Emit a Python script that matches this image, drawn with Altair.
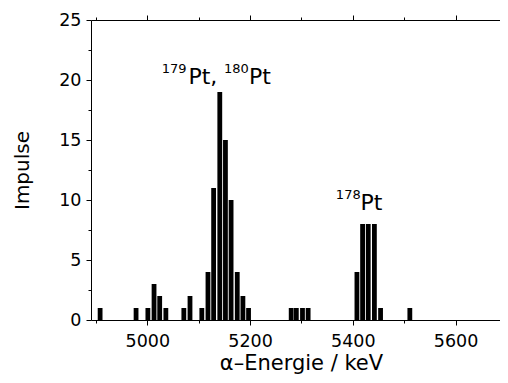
import altair as alt
import pandas as pd

# histogram bins (bin centre, keV) and counts
energy = [4908, 4978, 5001, 5013, 5024, 5036, 5071, 5083, 5106, 5118, 5129, 5141,
          5152, 5163, 5175, 5186, 5197, 5280, 5290, 5302, 5313, 5408, 5419, 5430,
          5442, 5454, 5511]
counts = [1, 1, 1, 3, 2, 1, 1, 2, 1, 4, 11, 19, 15, 10, 4, 2, 1, 1, 1, 1, 1, 4, 8, 8,
          8, 1, 1]

# annotations (data coordinates)
sup_text = ["179", "180", "178"]
sup_x = [5028, 5149, 5367]
sup_y = [20.56, 20.56, 10.06]
main_text = ["Pt,", "Pt", "Pt"]
main_x = [5080, 5198, 5415]
main_y = [19.64, 19.64, 9.17]

x_major = [5000, 5200, 5400, 5600]
x_minor = [4900, 5000, 5100, 5200, 5300, 5400, 5500, 5600]
y_major = [0, 5, 10, 15, 20, 25]
y_minor = [2.5, 7.5, 12.5, 17.5, 22.5]

FONT = "DejaVu Sans"

bars_df = pd.DataFrame({"energy": energy, "counts": counts})
sup_df = pd.DataFrame({"t": sup_text, "x": sup_x, "y": sup_y})
main_df = pd.DataFrame({"t": main_text, "x": main_x, "y": main_y})
tick_df = pd.DataFrame({"v": x_minor})

xscale = alt.Scale(domain=[4900, 5676.8], nice=False, zero=False)
yscale = alt.Scale(domain=[0, 25], nice=False)

bars = alt.Chart(bars_df).mark_bar(size=4.8, color="black").encode(
    x=alt.X("energy:Q", scale=xscale,
            axis=alt.Axis(orient="bottom", values=x_major, format="d", tickSize=5,
                          labelPadding=7, labelFont=FONT, labelFontSize=17.5,
                          title="α–Energie / keV", titleFont=FONT, titleFontSize=21,
                          titlePadding=3, titleX=210, domainColor="black",
                          tickColor="black")),
    y=alt.Y("counts:Q", scale=yscale,
            axis=alt.Axis(orient="left", values=y_major, format="d", tickSize=5,
                          labelPadding=5, labelFont=FONT, labelFontSize=17.5,
                          title="Impulse", titleFont=FONT, titleFontSize=20,
                          titlePadding=26, domainColor="black", tickColor="black")),
)

sup = alt.Chart(sup_df).mark_text(align="left", baseline="alphabetic", fontSize=13,
                                  font=FONT, color="black").encode(
    x=alt.X("x:Q", scale=xscale,
            axis=alt.Axis(orient="bottom", values=x_minor, tickSize=3, labels=False,
                          domain=False, title=None, tickColor="black")),
    y=alt.Y("y:Q", scale=yscale,
            axis=alt.Axis(orient="left", values=y_minor, tickSize=3, labels=False,
                          domain=False, title=None, tickColor="black")),
    text="t:N",
)

main = alt.Chart(main_df).mark_text(align="left", baseline="alphabetic", fontSize=22,
                                    font=FONT, color="black").encode(
    x=alt.X("x:Q", scale=xscale,
            axis=alt.Axis(orient="top", values=x_major, tickSize=5, labels=False,
                          title=None, domainColor="black", tickColor="black")),
    y=alt.Y("y:Q", scale=yscale, axis=None),
    text="t:N",
)

topminor = alt.Chart(tick_df).mark_point(opacity=0).encode(
    x=alt.X("v:Q", scale=xscale,
            axis=alt.Axis(orient="top", values=x_minor, tickSize=3, labels=False,
                          domain=False, title=None, tickColor="black")),
)

chart = alt.layer(bars, sup, main, topminor).resolve_axis(
    x="independent", y="independent"
).properties(
    width=409, height=300,
    autosize=alt.AutoSizeParams(type="none"),
    padding={"left": 83, "top": 12, "right": 0, "bottom": 60},
).configure_axis(
    grid=False, domainColor="black", tickColor="black", labelColor="black",
    titleColor="black", labelFont=FONT, titleFont=FONT, titleFontWeight="normal",
    domainWidth=1, tickWidth=1,
).configure_view(strokeWidth=0)

chart.save("out.html", embed_options={"renderer": "svg", "actions": False})
